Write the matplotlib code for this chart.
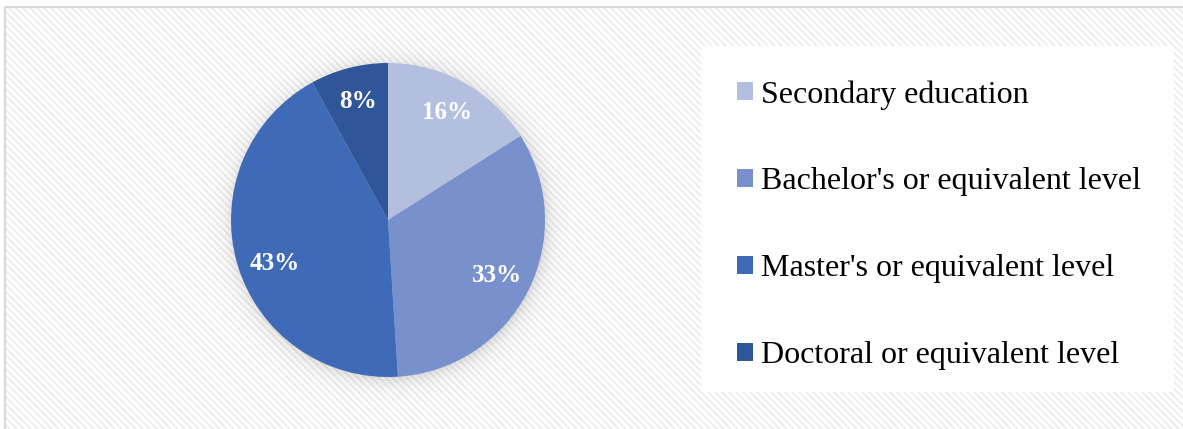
import numpy as np
import matplotlib
matplotlib.use("Agg")
import matplotlib.pyplot as plt
from matplotlib.patches import Rectangle

# Education level shares (%)
categories = ["Secondary education", "Bachelor's or equivalent level",
              "Master's or equivalent level", "Doctoral or equivalent level"]
shares = [16, 33, 43, 8]
colors = ["#B4BFE0", "#7891CD", "#3F6AB7", "#30569A"]

W, H, DPI = 1183, 429, 100
fig = plt.figure(figsize=(W / DPI, H / DPI), dpi=DPI)
fig.patch.set_facecolor("white")

# Striped chart-area background
bg = fig.add_axes([0, 0, 1, 1], zorder=0)
yy, xx = np.mgrid[0:H, 0:W]
stripe = ((xx - yy) % 7) < 3
img = np.where(stripe, 0.935, 1.0)
img[:6, :] = 1.0
img[:, :5] = 1.0
bg.imshow(np.dstack([img] * 3), extent=(0, W, H, 0), interpolation="nearest")
bg.set_xlim(0, W)
bg.set_ylim(H, 0)
bg.axis("off")
# chart border (top and left edges visible)
bg.add_patch(Rectangle((5.5, 6.5), W + 10, H + 10, fill=False,
                       edgecolor="#d9d9d9", linewidth=1.6))
# legend panel
bg.add_patch(Rectangle((701, 46), 473, 346, facecolor="white",
                       edgecolor="none", alpha=0.92))

# Pie geometry in pixels
cx, cy, R = 388, 220, 157

# soft shadow around the pie
pad = 32
sh = fig.add_axes([(cx - R - pad) / W, 1 - (cy + R + pad) / H,
                   (2 * R + 2 * pad) / W, (2 * R + 2 * pad) / H], zorder=1)
n = 2 * R + 2 * pad
g = np.linspace(-(R + pad), R + pad, n)
gx, gy = np.meshgrid(g, g)
r = np.hypot(gx - 1.5, gy - 2.0)
alpha = np.clip(0.32 * np.exp(-np.clip(r - R + 4, 0, None) / 8.5), 0, 1)
rgba = np.zeros((n, n, 4))
rgba[..., :3] = 0.45
rgba[..., 3] = alpha
sh.imshow(rgba, extent=(-1, 1, -1, 1), interpolation="bilinear")
sh.axis("off")

ax = fig.add_axes([(cx - R) / W, 1 - (cy + R) / H, 2 * R / W, 2 * R / H], zorder=2)
wedges, texts, autotexts = ax.pie(
    shares, colors=colors, startangle=90, counterclock=False,
    autopct=lambda p: f"{p:.0f}%", pctdistance=0.78, radius=1.0,
    wedgeprops=dict(linewidth=0),
    textprops=dict(color="white", fontsize=18, fontweight="bold",
                   family="Liberation Serif"))
# nudge the largest slice's label a little lower inside its wedge
autotexts[2].set_position((-0.72, -0.28))
ax.set_xlim(-1, 1)
ax.set_ylim(-1, 1)
ax.set_aspect("equal")
ax.axis("off")

leg = fig.legend(wedges, categories, loc="upper left",
                 bbox_to_anchor=(737 / W, 1 - 80 / H),
                 frameon=False, borderpad=0, borderaxespad=0,
                 prop=dict(family="Liberation Serif", size=23),
                 handlelength=0.5, handleheight=0.5, handletextpad=0.25,
                 labelspacing=1.81)
leg.set_zorder(3)

fig.savefig("out.png", dpi=DPI)
